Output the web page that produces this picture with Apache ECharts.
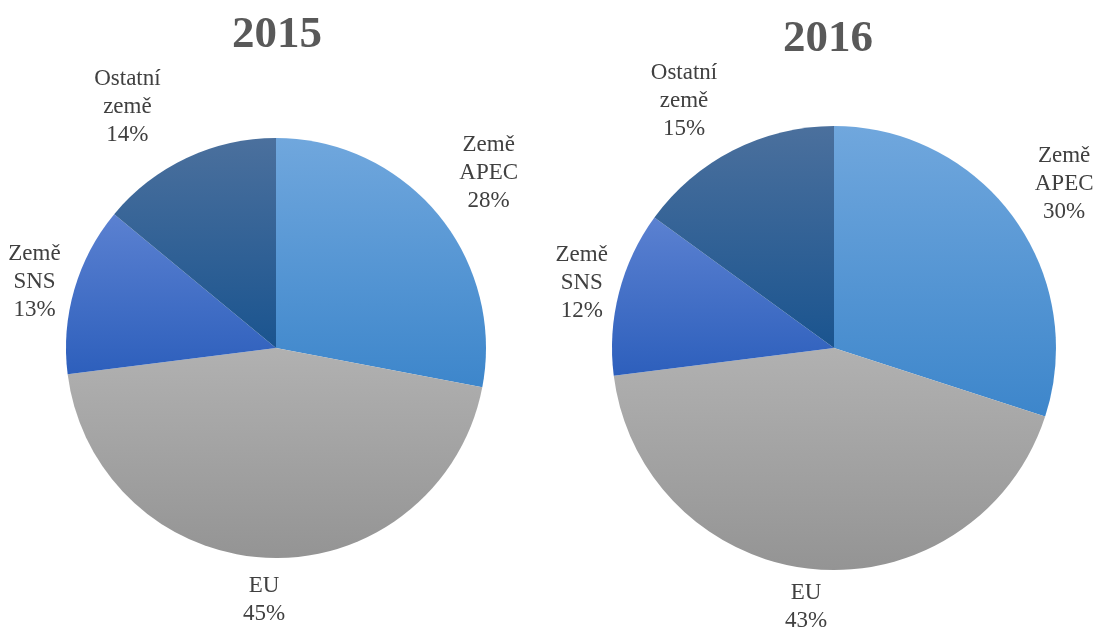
<!DOCTYPE html>
<html>
<head>
<meta charset="utf-8">
<script src="https://cdn.jsdelivr.net/npm/echarts@6/dist/echarts.min.js"></script>
<style>
html,body{margin:0;padding:0;background:#fff;}
#main{width:1094px;height:627px;}
</style>
</head>
<body>
<div id="main"></div>
<script>
// Data
var categories = ['Země\nAPEC', 'EU', 'Země\nSNS', 'Ostatní\nzemě'];
var years = ['2015', '2016'];
var values2015 = [28, 45, 13, 14];
var values2016 = [30, 43, 12, 15];

var gradients = [
  ['#70a7dd', '#3d86cb'],
  ['#b1b1b1', '#949494'],
  ['#5b81d1', '#2d5fbc'],
  ['#4b709d', '#1a548f']
];

var pieGeom = [
  {center: [276, 348], radius: 210},
  {center: [834, 348], radius: 222}
];
var allValues = [values2015, values2016];
// small per-label placement corrections (pixels), matching the reference's label placement
var labelNudge = [
  [[2, -1], [-4, -1], [9, 7], [-31, 9]],
  [[0, 3], [-3, -6], [11, 3], [-19, 10]]
];

function makeData(vals) {
  return vals.map(function (v, i) {
    return {
      name: categories[i],
      value: v,
      itemStyle: {
        color: {
          type: 'linear', x: 0, y: 0, x2: 0, y2: 1,
          colorStops: [{offset: 0, color: gradients[i][0]}, {offset: 1, color: gradients[i][1]}]
        }
      }
    };
  });
}

function midAngle(vals, idx) {
  var total = vals.reduce(function (a, b) { return a + b; }, 0);
  var cum = 0;
  for (var i = 0; i < idx; i++) cum += vals[i];
  var frac = (cum + vals[idx] / 2) / total;
  return frac * 2 * Math.PI; // clockwise from 12 o'clock
}

function makeLayout(s) {
  return function (params) {
    var vals = allValues[s];
    var g = pieGeom[s];
    var a = midAngle(vals, params.dataIndex);
    var dx = Math.sin(a), dy = -Math.cos(a);
    var w = params.labelRect.width, h = params.labelRect.height;
    var half = Math.abs(dx) * w / 2 + Math.abs(dy) * h / 2;
    var d = g.radius + 14 + half;
    var n = labelNudge[s][params.dataIndex];
    return {
      x: g.center[0] + dx * d + n[0],
      y: g.center[1] + dy * d + n[1],
      align: 'center',
      verticalAlign: 'middle'
    };
  };
}

var series = years.map(function (y, s) {
  return {
    type: 'pie',
    center: pieGeom[s].center,
    radius: pieGeom[s].radius,
    startAngle: 90,
    clockwise: true,
    avoidLabelOverlap: false,
    animation: false,
    data: makeData(allValues[s]),
    label: {
      show: true,
      position: 'outside',
      formatter: '{b}\n{c}%',
      fontFamily: 'Liberation Serif',
      fontSize: 23,
      lineHeight: 28,
      color: '#404040'
    },
    labelLine: {show: false},
    labelLayout: makeLayout(s),
    emphasis: {disabled: true},
    itemStyle: {borderWidth: 0}
  };
});

var chart = echarts.init(document.getElementById('main'), null, {renderer: 'canvas'});
chart.setOption({
  backgroundColor: '#ffffff',
  animation: false,
  title: [
    {text: years[0], left: 272, top: 8, textAlign: 'center',
     textStyle: {fontFamily: 'Liberation Serif', fontWeight: 'bold', fontSize: 45, color: '#595959'}},
    {text: years[1], left: 823, top: 12, textAlign: 'center',
     textStyle: {fontFamily: 'Liberation Serif', fontWeight: 'bold', fontSize: 45, color: '#595959'}}
  ],
  series: series
});
</script>
</body>
</html>
